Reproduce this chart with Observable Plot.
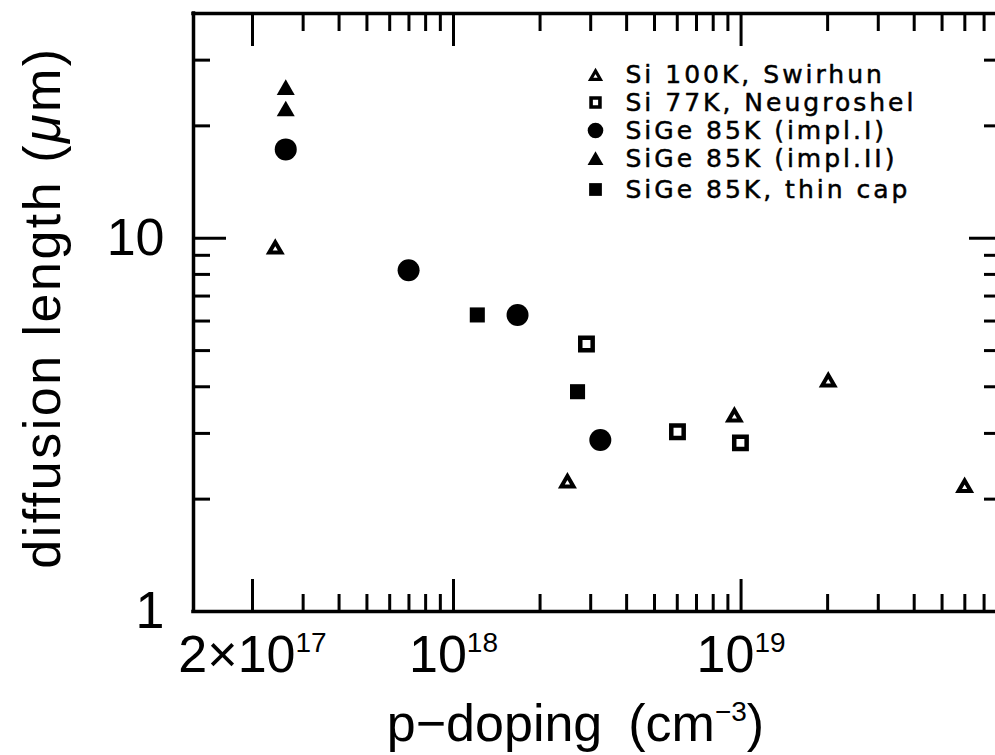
<!DOCTYPE html>
<html>
<head>
<meta charset="utf-8">
<script src="https://cdn.jsdelivr.net/npm/d3@7"></script>
<script src="https://cdn.jsdelivr.net/npm/@observablehq/plot@0.6"></script>
<style>
  html, body { margin: 0; padding: 0; background: #fff; overflow: hidden; }
</style>
</head>
<body>
<div id="chart"></div>
<script>
// ---- data ----
const seriesNames = ["Si 100K, Swirhun", "Si 77K, Neugroshel", "SiGe 85K (impl.I)", "SiGe 85K (impl.II)", "SiGe 85K, thin cap"];
const seriesSymbols = ["triangle", "square", "circle", "triangle", "square"];
const seriesFilled = [false, false, true, true, true];

const swirhunX = [2.40e17, 2.49e18, 9.48e18, 2.01e19, 5.99e19];
const swirhunY = [9.35, 2.21, 3.32, 4.12, 2.15];
const neugroshelX = [2.90e18, 6.01e18, 9.95e18];
const neugroshelY = [5.21, 3.03, 2.83];
const impl1X = [2.61e17, 6.98e17, 1.67e18, 3.24e18];
const impl1Y = [17.3, 8.21, 6.23, 2.88];
const impl2X = [2.61e17, 2.61e17];
const impl2Y = [25.0, 21.9];
const thinCapX = [1.21e18, 2.70e18];
const thinCapY = [6.23, 3.88];

const xMajorTicks = [2e17, 1e18, 1e19];
const xMinorTicks = [3e17, 4e17, 5e17, 6e17, 7e17, 8e17, 9e17,
                     2e18, 3e18, 4e18, 5e18, 6e18, 7e18, 8e18, 9e18,
                     2e19, 3e19, 4e19, 5e19, 6e19, 7e19];
const xTickLabels = ["2×10^17", "10^18", "10^19"];
const yMajorTicks = [10];
const yMinorTicks = [2, 3, 4, 5, 6, 7, 8, 9, 20, 30];
const yTickValues = [1, 10];
const yTickLabels = ["1", "10"];

const xTitle = "p−doping\u2002(cm^−3^)";
const yTitle = "diffusion length (μm)";

// ---- layout ----
const xDomain = [1.247e17, 7.67e19];
const yDomain = [1, 40];

const seriesX = [swirhunX, neugroshelX, impl1X, impl2X, thinCapX];
const seriesY = [swirhunY, neugroshelY, impl1Y, impl2Y, thinCapY];
const dataR = [4.5, 7, 11, 6.7, 8.5];
const dataSW = [4, 4.5, 0, 0, 0];
const legendR = [3.6, 5, 7.8, 5.9, 7.2];
const legendSW = [3.2, 3.6, 0, 0, 0];
const legendRowY = [74, 102, 130, 158, 189];

const points = [];
seriesNames.forEach((name, s) => {
  seriesX[s].forEach((x, i) => points.push({series: s, x, y: seriesY[s][i]}));
});

const dotMarks = seriesNames.map((name, s) => Plot.dot(points.filter(d => d.series === s), {
  x: "x", y: "y",
  symbol: seriesSymbols[s],
  r: dataR[s],
  fill: seriesFilled[s] ? "black" : "none",
  stroke: seriesFilled[s] ? "none" : "black",
  strokeWidth: dataSW[s],
  strokeLinejoin: "miter"
}));

const legendMarks = [];
seriesNames.forEach((name, s) => {
  const triShift = seriesSymbols[s] === "triangle" ? 2 : 0;
  legendMarks.push(Plot.dot([name], {
    frameAnchor: "top-left", dx: 402, dy: legendRowY[s] - 13 + triShift,
    symbol: seriesSymbols[s], r: legendR[s],
    fill: seriesFilled[s] ? "black" : "none",
    stroke: seriesFilled[s] ? "none" : "black",
    strokeWidth: legendSW[s], strokeLinejoin: "miter"
  }));
  legendMarks.push(Plot.text([name], {
    frameAnchor: "top-left", dx: 432, dy: legendRowY[s] - 13,
    textAnchor: "start", lineAnchor: "middle", fontSize: 25, fontFamily: "DejaVu Sans",
    stroke: "black", strokeWidth: 0.5, fill: "black"
  }));
});

const xLabelRows = xMajorTicks.map((v, i) => ({v, t: xTickLabels[i]}));
const yLabelRows = yTickValues.map((v, i) => ({v, t: yTickLabels[i]}));

const tickCommon = {fill: null, label: null, strokeWidth: 3, strokeLinecap: "butt"};

const svg = Plot.plot({
  width: 995,
  height: 755,
  marginLeft: 193,
  marginRight: 0,
  marginTop: 13,
  marginBottom: 144,
  x: {type: "log", domain: xDomain},
  y: {type: "log", domain: yDomain},
  style: {fontFamily: "'Liberation Sans', Arial, sans-serif", color: "black", background: "white", overflow: "visible"},
  marks: [
    // ticks (inward)
    Plot.axisX(xMinorTicks, {anchor: "bottom", tickSize: -17, ...tickCommon}),
    Plot.axisX(xMajorTicks, {anchor: "bottom", tickSize: -32, ...tickCommon}),
    Plot.axisX(xMinorTicks, {anchor: "top", tickSize: -17, ...tickCommon}),
    Plot.axisX(xMajorTicks, {anchor: "top", tickSize: -32, ...tickCommon}),
    Plot.axisY(yMinorTicks, {anchor: "left", tickSize: -17, ...tickCommon}),
    Plot.axisY(yMajorTicks, {anchor: "left", tickSize: -33, ...tickCommon}),
    Plot.axisY(yMinorTicks, {anchor: "right", tickSize: -12, ...tickCommon}),
    Plot.axisY(yMajorTicks, {anchor: "right", tickSize: -27, ...tickCommon}),
    // frame
    Plot.ruleY(yDomain, {strokeWidth: 3.5, strokeLinecap: "square"}),
    Plot.ruleX([xDomain[0]], {strokeWidth: 3.5, strokeLinecap: "square"}),
    // tick labels
    Plot.text(xLabelRows, {x: "v", text: "t", frameAnchor: "bottom", lineAnchor: "middle", textAnchor: "middle", dy: 44, fontSize: 52}),
    Plot.text(yLabelRows, {y: "v", text: "t", frameAnchor: "left", lineAnchor: "middle", dx: -29, textAnchor: "end", fontSize: 52}),
    // axis titles
    Plot.text([xTitle], {frameAnchor: "bottom", lineAnchor: "middle", textAnchor: "middle", dx: -19, dy: 113, fontSize: 52}),
    Plot.text([yTitle], {frameAnchor: "left", lineAnchor: "middle", textAnchor: "middle", rotate: -90, dx: -150, dy: -5, fontSize: 52}),
    ...dotMarks,
    ...legendMarks
  ]
});

// rich text: superscripts (^...^), italic mu, letter spacing
svg.querySelectorAll("text").forEach(t => {
  const s = t.textContent;
  if (seriesNames.includes(s)) {
    t.setAttribute("letter-spacing", "3");
    return;
  }
  if (s.includes("^")) {
    const parts = s.split("^");
    t.textContent = "";
    parts.forEach((p, i) => {
      if (p === "") return;
      const ts = document.createElementNS("http://www.w3.org/2000/svg", "tspan");
      ts.textContent = p;
      if (i % 2 === 1) {
        ts.setAttribute("font-size", "28");
        ts.setAttribute("dy", "-20");
      } else if (i > 0) {
        ts.setAttribute("dy", "20");
      }
      t.appendChild(ts);
    });
  } else if (s.includes("μ")) {
    t.setAttribute("letter-spacing", "2.5");
    const parts = s.split("μ");
    t.textContent = "";
    const a = document.createElementNS("http://www.w3.org/2000/svg", "tspan");
    a.textContent = parts[0];
    const m = document.createElementNS("http://www.w3.org/2000/svg", "tspan");
    m.textContent = "μ";
    m.setAttribute("font-style", "italic");
    const b = document.createElementNS("http://www.w3.org/2000/svg", "tspan");
    b.textContent = parts[1];
    t.append(a, m, b);
  }
});

document.getElementById("chart").append(svg);
</script>
</body>
</html>
